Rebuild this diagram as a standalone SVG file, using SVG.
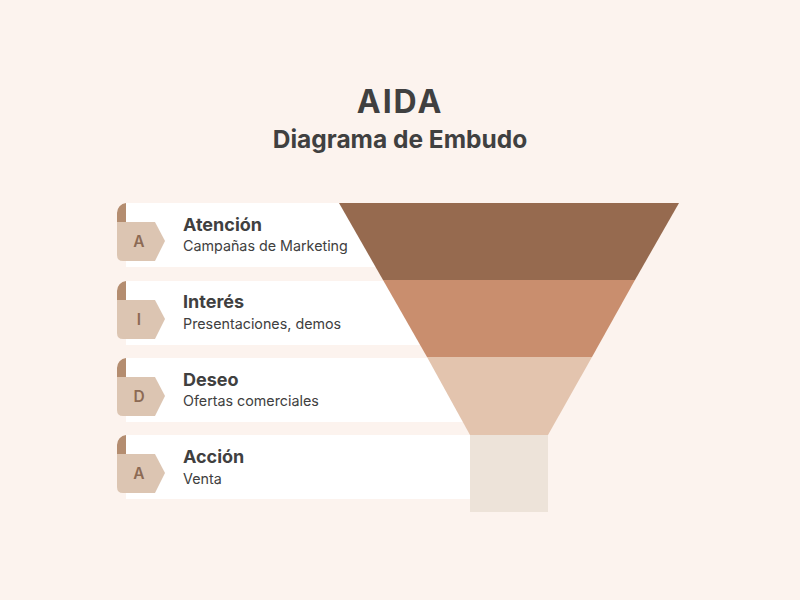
<svg xmlns="http://www.w3.org/2000/svg" width="800" height="600" viewBox="0 0 800 600">
<defs>
<style>
.bg{fill:#fcf3ee}
.row{fill:#ffffff}
.curl{fill:#b48d70}
.tab{fill:#dcc5b2}
.letter{font-family:Inter,"Liberation Sans",sans-serif;font-weight:600;font-size:15.5px;fill:#8c6a54;text-anchor:middle}
.head{font-family:Inter,"Liberation Sans",sans-serif;font-weight:700;font-size:18px;fill:#404040}
.sub{font-family:Inter,"Liberation Sans",sans-serif;font-size:14.3px;fill:#404040}
.title{font-family:Inter,"Liberation Sans",sans-serif;font-weight:700;fill:#404040;text-anchor:middle}
</style>
</defs>
<rect class="bg" x="0" y="0" width="800" height="600"/>
<text class="title" x="400" y="113" font-size="32" letter-spacing="2">AIDA</text>
<text class="title" x="400" y="148" font-size="24.5">Diagrama de Embudo</text>

<g id="row-atencion">
<rect class="row" x="126" y="203" width="360" height="64"/>
<path class="curl" d="M117,213 A10,10 0 0 1 126,203 L126,223 L117,223 Z"/>
<path class="tab" d="M117,222 L155,222 L165,241 L155,261 L123,261 Q117,261 117,255 Z"/>
<text class="letter" x="139" y="247">A</text>
<text class="head" x="183" y="231">Atención</text>
<text class="sub" x="183" y="251">Campañas de Marketing</text>
</g>
<g id="row-interes">
<rect class="row" x="126" y="281" width="360" height="64"/>
<path class="curl" d="M117,291 A10,10 0 0 1 126,281 L126,301 L117,301 Z"/>
<path class="tab" d="M117,300 L155,300 L165,319 L155,339 L123,339 Q117,339 117,333 Z"/>
<text class="letter" x="139" y="325">I</text>
<text class="head" x="183" y="308">Interés</text>
<text class="sub" x="183" y="329">Presentaciones, demos</text>
</g>
<g id="row-deseo">
<rect class="row" x="126" y="358" width="360" height="64"/>
<path class="curl" d="M117,368 A10,10 0 0 1 126,358 L126,378 L117,378 Z"/>
<path class="tab" d="M117,377 L155,377 L165,396 L155,416 L123,416 Q117,416 117,410 Z"/>
<text class="letter" x="139" y="402">D</text>
<text class="head" x="183" y="386">Deseo</text>
<text class="sub" x="183" y="406">Ofertas comerciales</text>
</g>
<g id="row-accion">
<rect class="row" x="126" y="435" width="360" height="64"/>
<path class="curl" d="M117,445 A10,10 0 0 1 126,435 L126,455 L117,455 Z"/>
<path class="tab" d="M117,454 L155,454 L165,473 L155,493 L123,493 Q117,493 117,487 Z"/>
<text class="letter" x="139" y="479">A</text>
<text class="head" x="183" y="463">Acción</text>
<text class="sub" x="183" y="484">Venta</text>
</g>

<g id="funnel">
<polygon fill="#966a4f" points="339,203 679,203 635,280 383,280"/>
<polygon fill="#c98e6e" points="383,280 635,280 592,357 427,357"/>
<polygon fill="#e3c4ae" points="427,357 592,357 548,435 470,435"/>
<rect fill="#ede3d9" x="470" y="435" width="78" height="77"/>
</g>
<g id="connectors"></g>
</svg>
